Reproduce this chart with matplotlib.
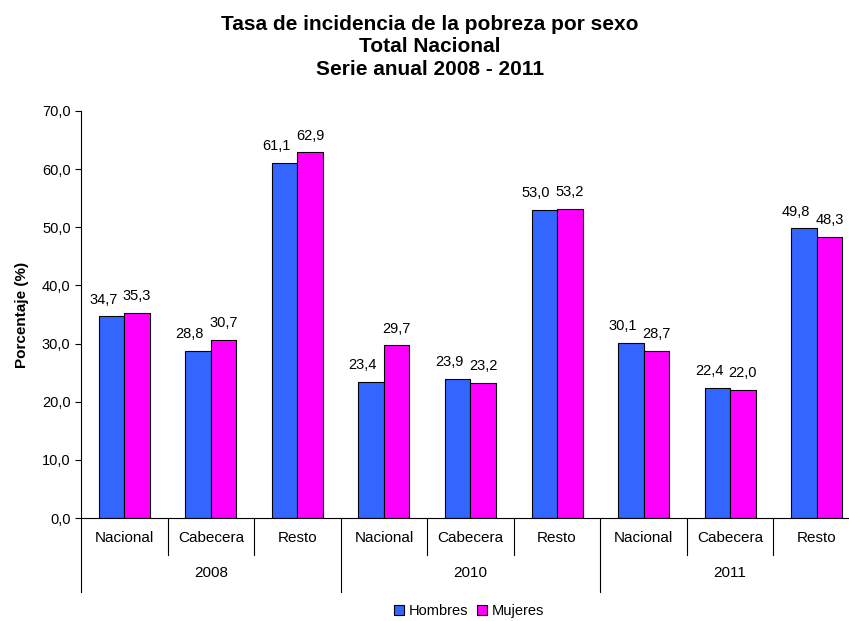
import numpy as np
import matplotlib.pyplot as plt
import matplotlib.transforms as mtransforms

plt.rcParams['font.family'] = ['Liberation Sans', 'DejaVu Sans']

years = ["2008", "2010", "2011"]
areas = ["Nacional", "Cabecera", "Resto"]
hombres = [34.7, 28.8, 61.1, 23.4, 23.9, 53.0, 30.1, 22.4, 49.8]
mujeres = [35.3, 30.7, 62.9, 29.7, 23.2, 53.2, 28.7, 22.0, 48.3]
title_lines = ["Tasa de incidencia de la pobreza por sexo", "Total Nacional", "Serie anual 2008 - 2011"]


def fmt(v):
    return f"{v:.1f}".replace(".", ",")


def main():
    fig = plt.figure(figsize=(8.49, 6.21), dpi=100)
    ax = fig.add_axes([81 / 849, 1 - 518 / 621, 779 / 849, 407 / 621])

    x = np.arange(len(hombres))
    w = 0.295
    b1 = ax.bar(x - w / 2, hombres, w, color="#3366FF", edgecolor="black", linewidth=0.8, label="Hombres")
    b2 = ax.bar(x + w / 2, mujeres, w, color="#FF00FF", edgecolor="black", linewidth=0.8, label="Mujeres")

    for rect, v in zip(b1, hombres):
        ax.annotate(fmt(v), (rect.get_x() + rect.get_width() / 2, v), xytext=(-6, 7),
                    textcoords="offset points", ha="center", va="bottom", fontsize=10.5)
    for rect, v in zip(b2, mujeres):
        ax.annotate(fmt(v), (rect.get_x() + rect.get_width() / 2, v), xytext=(0, 7),
                    textcoords="offset points", ha="center", va="bottom", fontsize=10.5)

    ax.set_ylim(0, 70)
    ax.set_xlim(-0.5, len(hombres) - 0.5)
    ax.set_yticks(np.arange(0, 71, 10))
    ax.set_yticklabels([fmt(t) for t in np.arange(0, 71, 10)], fontsize=10.5)
    ax.set_xticks([])
    ax.tick_params(axis="y", direction="out", length=4, width=0.8)
    ax.spines["top"].set_visible(False)
    ax.spines["right"].set_visible(False)
    ax.set_ylabel("Porcentaje (%)", fontsize=11, fontweight="bold", labelpad=9)

    # two level category axis
    trans = mtransforms.blended_transform_factory(ax.transData, ax.transAxes)
    for i in range(len(hombres)):
        ax.text(i, -0.049, areas[i % 3], transform=trans, ha="center", va="center", fontsize=11)
    for k in range(len(hombres) + 1):
        xpos = k - 0.5
        low = -0.182 if k % 3 == 0 else -0.091
        ax.plot([xpos, xpos], [0, low], transform=trans, color="black", linewidth=0.8, clip_on=False)
    for j, yr in enumerate(years):
        ax.text(j * 3 + 1, -0.135, yr, transform=trans, ha="center", va="center", fontsize=11)

    # title, one text per line to get the tight spacing
    for yb, line in zip([30, 52.5, 75], title_lines):
        fig.text(430 / 849, 1 - yb / 621, line, ha="center", va="baseline", fontsize=15, fontweight="bold")

    fig.legend(handles=[b1, b2], loc="center", bbox_to_anchor=(469 / 849, 1 - 611 / 621), ncol=2,
               frameon=False, fontsize=10.5, handlelength=0.7, handleheight=0.7, handletextpad=0.3,
               columnspacing=0.6)

    fig.savefig("out.png", dpi=100)


if __name__ == "__main__":
    main()
